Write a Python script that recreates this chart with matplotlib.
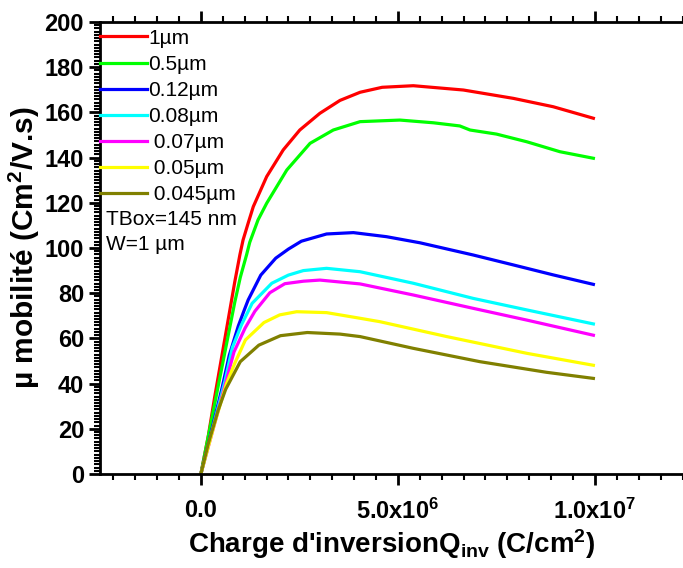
import math
import matplotlib
matplotlib.use("Agg")
import matplotlib.pyplot as plt
from matplotlib.ticker import MultipleLocator, AutoMinorLocator, FuncFormatter

plt.rcParams['font.family'] = ['Liberation Sans', 'DejaVu Sans']
plt.rcParams['mathtext.fontset'] = 'custom'
plt.rcParams['mathtext.rm'] = 'Liberation Sans:bold'
plt.rcParams['mathtext.default'] = 'rm'

# values, charge in units of 1e6 C/cm2
labels = ["1µm", "0.5µm", "0.12µm", "0.08µm", " 0.07µm", " 0.05µm", " 0.045µm"]
colors = ["#ff0000", "#00ff00", "#0000ff", "#00ffff", "#ff00ff", "#ffff00", "#808000"]

x_1um = [0, 0.19, 0.35, 0.52, 0.69, 0.86, 0.99, 1.07, 1.2, 1.33, 1.67, 2.09, 2.51, 3.02, 3.53, 4.04,
         4.6, 5.39, 6.66, 7.93, 8.94, 9.96]
y_1um = [0, 17, 34, 51, 68, 85, 97, 103.5, 111, 118.3, 131.6, 143.4, 152.2, 159.6, 165.3, 168.9,
         171.1, 171.8, 169.9, 166.2, 162.5, 157.4]

x_05um = [0, 0.35, 0.52, 0.69, 0.86, 1.0, 1.16, 1.24, 1.45, 1.67, 2.18, 2.77, 3.36, 4.04, 5.05, 5.9,
          6.57, 6.83, 7.5, 8.27, 9.11, 9.96]
y_05um = [0, 31, 46, 61, 76, 87, 97, 102.5, 112.4, 119.8, 134.5, 146.3, 152.2, 155.9, 156.6, 155.4,
          154, 152.2, 150.4, 147, 142.6, 139.7]

x_012um = [0, 0.53, 0.72, 0.95, 1.1, 1.2, 1.52, 1.9, 2.22, 2.55, 3.19, 3.87, 4.71, 5.56, 6.91, 7.93,
           8.94, 9.96]
y_012um = [0, 37.5, 52.5, 65.5, 72.5, 77, 88, 95.5, 99.5, 103, 106.2, 106.8, 105, 102.3, 96.9, 92.5,
           88.1, 83.9]

x_008um = [0, 0.61, 0.8, 1.03, 1.3, 1.8, 2.22, 2.6, 3.19, 4.04, 5.39, 6.91, 8.27, 9.96]
y_008um = [0, 41, 56, 66, 75.5, 84.4, 88, 90, 91, 89.5, 84.4, 77.7, 72.6, 66.4]

x_007um = [0, 0.61, 0.84, 1.12, 1.37, 1.75, 2.13, 2.6, 3.02, 4.04, 5.39, 6.91, 8.27, 9.96]
y_007um = [0, 39, 54, 64.5, 72, 80.2, 84.2, 85.3, 85.8, 84.1, 79.2, 73.3, 68.1, 61.4]

x_005um = [0, 0.36, 0.65, 0.86, 1.13, 1.6, 2.0, 2.43, 3.19, 4.04, 4.54, 6.24, 8.27, 9.96]
y_005um = [0, 23, 40, 49, 59.3, 67, 70.4, 71.8, 71.4, 68.9, 67.4, 60.8, 53.4, 48.1]

x_0045um = [0, 0.19, 0.44, 0.63, 1.0, 1.47, 2.02, 2.7, 3.53, 4.04, 5.39, 7.08, 8.77, 9.96]
y_0045um = [0, 13.6, 28.3, 37.5, 49.7, 57, 61.2, 62.6, 61.9, 60.8, 55.6, 49.7, 45, 42.3]

xs = [x_1um, x_05um, x_012um, x_008um, x_007um, x_005um, x_0045um]
ys = [y_1um, y_05um, y_012um, y_008um, y_007um, y_005um, y_0045um]

fig = plt.figure(figsize=(6.83, 5.68), dpi=100)
ax = fig.add_axes([0.1464, 0.1655, 0.8536, 0.7958])

for x, y, c, lab in zip(xs, ys, colors, labels):
    ax.plot([v * 1e6 for v in x], y, color=c, lw=2.3, label=lab, solid_joinstyle='round')

ax.set_xlim(-2.56e6, 1.2234e7)
ax.set_ylim(0, 200)

ax.xaxis.set_major_locator(MultipleLocator(5e6))
ax.xaxis.set_minor_locator(AutoMinorLocator(9))
ax.yaxis.set_major_locator(MultipleLocator(20))
ax.yaxis.set_minor_locator(AutoMinorLocator(14))


def fmt_x(v, pos):
    if abs(v) < 1:
        return "0.0"
    e = int(math.floor(math.log10(abs(v))))
    return "%.1fx10$^{%d}$" % (v / 10 ** e, e)


ax.xaxis.set_major_formatter(FuncFormatter(fmt_x))

for s in ax.spines.values():
    s.set_linewidth(2)
ax.spines['right'].set_visible(False)

ax.tick_params(axis='both', which='major', direction='out', length=8, width=2,
               labelsize=17)
ax.tick_params(axis='x', which='major', pad=10)
ax.tick_params(axis='both', which='minor', direction='out', length=4, width=1.5)
ax.tick_params(axis='x', which='both', top=True)
for lab in ax.get_xticklabels() + ax.get_yticklabels():
    lab.set_fontweight('bold')

ax.set_xlabel("Charge d'inversionQ$_{inv}$ (C/cm$^2$)", fontsize=20, fontweight='bold', labelpad=2)
ax.set_ylabel("µ mobilité (Cm$^2$/V.s)", fontsize=21.5, fontweight='bold', labelpad=2)

leg = ax.legend(loc='upper left', bbox_to_anchor=(0.0, 0.985), frameon=False,
                fontsize=15, handlelength=2.25, handletextpad=0.05,
                labelspacing=0.34, borderaxespad=0, borderpad=0)

ax.text(0.011, 0.562, "TBox=145 nm", transform=ax.transAxes, fontsize=15, va='center')
ax.text(0.011, 0.507, "W=1 µm", transform=ax.transAxes, fontsize=15, va='center')

fig.savefig("out.png", dpi=100)
